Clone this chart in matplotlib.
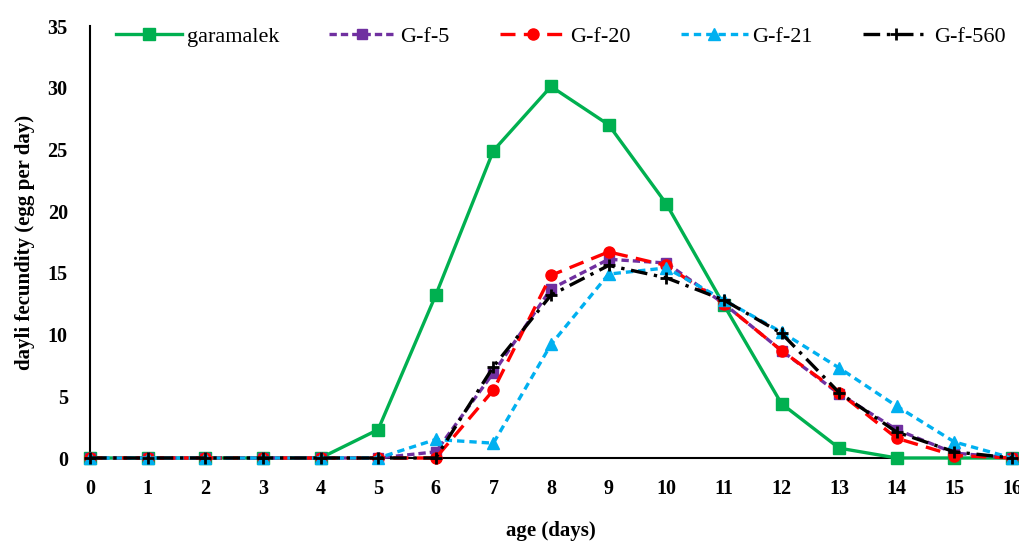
import matplotlib
matplotlib.use("Agg")
import matplotlib.pyplot as plt

days = list(range(0, 17))
garamalek = [0, 0, 0, 0, 0, 2.3, 13.2, 24.9, 30.1, 27.0, 20.6, 12.4, 4.4, 0.8, 0, 0, 0]
gf5 = [0, 0, 0, 0, 0, 0, 0.5, 6.9, 13.7, 16.1, 15.8, 12.5, 8.7, 5.2, 2.3, 0.4, 0]
gf20 = [0, 0, 0, 0, 0, 0, 0, 5.5, 14.8, 16.7, 15.6, 12.5, 8.7, 5.3, 1.6, 0.2, 0]
gf21 = [0, 0, 0, 0, 0, 0, 1.5, 1.2, 9.2, 14.9, 15.4, 12.8, 10.2, 7.3, 4.2, 1.3, 0]
gf560 = [0, 0, 0, 0, 0, 0, 0, 7.4, 13.2, 15.6, 14.6, 12.8, 10.1, 5.3, 2.1, 0.5, 0]
series_names = ["garamalek", "G-f-5", "G-f-20", "G-f-21", "G-f-560"]
yticks = [0, 5, 10, 15, 20, 25, 30, 35]

plt.rcParams['font.family'] = ['Liberation Serif', 'DejaVu Serif']

fig = plt.figure(figsize=(10.19, 5.43), dpi=100)
ax = fig.add_axes([90/1019, 1-458/543, (1012-90)/1019, (458-26)/543])

ax.plot(days, garamalek, color='#00B050', lw=2.4, marker='s', ms=8, label=series_names[0], zorder=3)
ax.plot(days, gf5, color='#7030A0', lw=2.4, ls=(0, (2.2, 1.2)), marker='s', ms=6.5, label=series_names[1], zorder=4)
ax.plot(days, gf20, color='#FF0000', lw=2.4, ls=(0, (4.5, 2.5)), marker='o', ms=8, label=series_names[2], zorder=5)
ax.plot(days, gf21, color='#00B0F0', lw=2.4, ls=(0, (2.2, 1.5)), marker='^', ms=8, label=series_names[3], zorder=6)
ax.plot(days, gf560, color='black', lw=2.4, ls=(0, (5, 2, 1, 2)), marker='+', ms=9, mew=2, label=series_names[4], zorder=7)

ax.set_xlim(0, 16)
ax.set_ylim(0, 35)
ax.set_xticks(days)
ax.set_yticks(yticks)
ax.tick_params(length=0, labelsize=14.5)
ax.tick_params(axis='x', pad=15)
ax.tick_params(axis='y', pad=16)
for lab in ax.get_xticklabels() + ax.get_yticklabels():
    lab.set_fontweight('bold')
ax.spines['top'].set_visible(False)
ax.spines['right'].set_visible(False)
ax.spines['left'].set_linewidth(1.5)
ax.spines['bottom'].set_linewidth(1.5)
for ln in ax.lines:
    ln.set_clip_on(False)

ax.set_xlabel("age (days)", fontsize=15, fontweight='bold', labelpad=16)
ax.set_ylabel("dayli fecundity (egg per day)", fontsize=15, fontweight='bold', labelpad=9)

ax.legend(loc='upper left', bbox_to_anchor=(0.006, 1.045), ncol=5, frameon=False,
          fontsize=16, handlelength=3.0, columnspacing=2.25, handletextpad=0.2)

fig.savefig("out.png", dpi=100)
